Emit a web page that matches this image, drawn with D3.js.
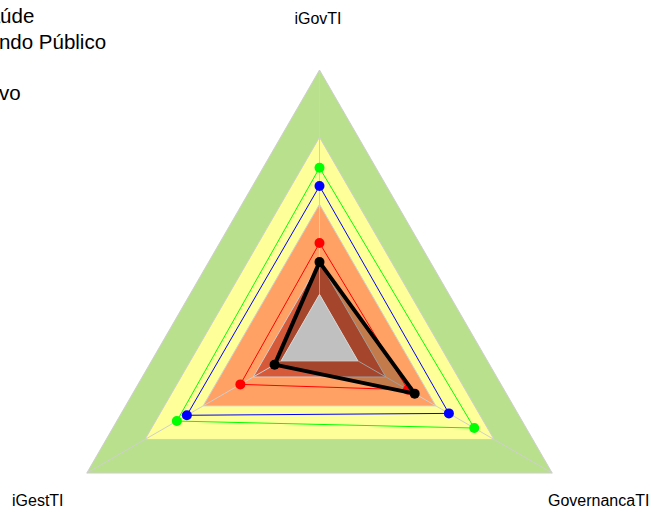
<!DOCTYPE html>
<html>
<head>
<meta charset="utf-8">
<script src="https://cdn.jsdelivr.net/npm/d3@7"></script>
<style>
  body { margin: 0; background: #fff; }
  svg { display: block; font-family: Arial, "Liberation Sans", sans-serif; }
</style>
</head>
<body>
<div id="chart"></div>
<script>
var width = 652;
var height = 512;

// axes, clockwise from the top
var axes = ['iGovTI', 'GovernancaTI', 'iGestTI'];

// background bands (outer to inner)
var bandLevels = [1, 0.75, 0.5, 0.285, 0.165];
var bandColors = ['#b9e08c', '#ffff99', '#ffa064', '#d65a3a', '#c0c0c0'];

// series values per axis (iGovTI, GovernancaTI, iGestTI)
var blackValues = [0.285, 0.409, 0.193];
var redValues = [0.356, 0.38, 0.34];
var blueValues = [0.568, 0.556, 0.57];
var greenValues = [0.636, 0.665, 0.613];

var legendLabels = ['Saúde', 'Fundo Público', '', 'Ativo'];

var cx = 319.5, cy = 338.7;

var canvas = d3.select('#chart')
  .append('svg')
  .attr('width', width)
  .attr('height', height);

var rScale = d3.scaleLinear().domain([0, 1]).range([0, 268.7]);
var angle = d3.scalePoint().domain(axes.concat(['_end'])).range([0, 2 * Math.PI]);

var radar = d3.lineRadial()
  .angle(function(d, i){ return angle(axes[i]); })
  .radius(function(d){ return rScale(d); })
  .curve(d3.curveLinearClosed);

function point(v, i){
  var a = angle(axes[i]) - Math.PI / 2;
  return [rScale(v) * Math.cos(a), rScale(v) * Math.sin(a)];
}

var g = canvas.append('g').attr('transform', 'translate(' + cx + ',' + cy + ')');

// bands except the grey core
bandLevels.slice(0, 4).forEach(function(l, k){
  g.append('path')
    .attr('d', radar(axes.map(function(){ return l; })))
    .attr('fill', bandColors[k])
    .attr('stroke', '#cfcfcf')
    .attr('stroke-width', 1);
});

// spokes
axes.forEach(function(a, i){
  var p = point(1, i);
  g.append('line')
    .attr('x1', 0).attr('y1', 0)
    .attr('x2', p[0]).attr('y2', p[1])
    .attr('stroke', '#cfcfcf')
    .attr('stroke-width', 1);
});

// translucent fill of the black series
g.append('path')
  .attr('d', radar(blackValues))
  .attr('fill', 'rgba(0,0,0,0.23)');

// grey core
g.append('path')
  .attr('d', radar(axes.map(function(){ return bandLevels[4]; })))
  .attr('fill', bandColors[4])
  .attr('stroke', '#d8d8d8')
  .attr('stroke-width', 1);

var series = [
  {values: greenValues, color: '#00ff00', w: 1},
  {values: blueValues, color: '#0000ff', w: 1},
  {values: redValues, color: '#ff0000', w: 1},
  {values: blackValues, color: '#000000', w: 4}
];

series.forEach(function(s){
  g.append('path')
    .attr('d', radar(s.values))
    .attr('fill', 'none')
    .attr('stroke', s.color)
    .attr('stroke-width', s.w)
    .attr('stroke-linejoin', 'round');
  g.selectAll(null)
    .data(s.values)
    .enter()
    .append('circle')
    .attr('cx', function(d, i){ return point(d, i)[0]; })
    .attr('cy', function(d, i){ return point(d, i)[1]; })
    .attr('r', 5)
    .attr('fill', s.color);
});

// axis labels
var labelPos = [[318, 24, 'middle'], [548, 506, 'start'], [12, 506, 'start']];
axes.forEach(function(a, i){
  canvas.append('text')
    .text(a)
    .attr('x', labelPos[i][0])
    .attr('y', labelPos[i][1])
    .attr('text-anchor', labelPos[i][2])
    .style('font-size', '16px')
    .attr('fill', '#000');
});

// legend (runs off the left edge)
canvas.append('g')
  .selectAll('text')
  .data(legendLabels)
  .enter()
  .append('text')
  .text(function(d){ return d; })
  .attr('x', -25)
  .attr('y', function(d, i){ return 23 + i * 25.7; })
  .style('font-size', '20.5px')
  .attr('fill', '#000');
</script>
</body>
</html>
